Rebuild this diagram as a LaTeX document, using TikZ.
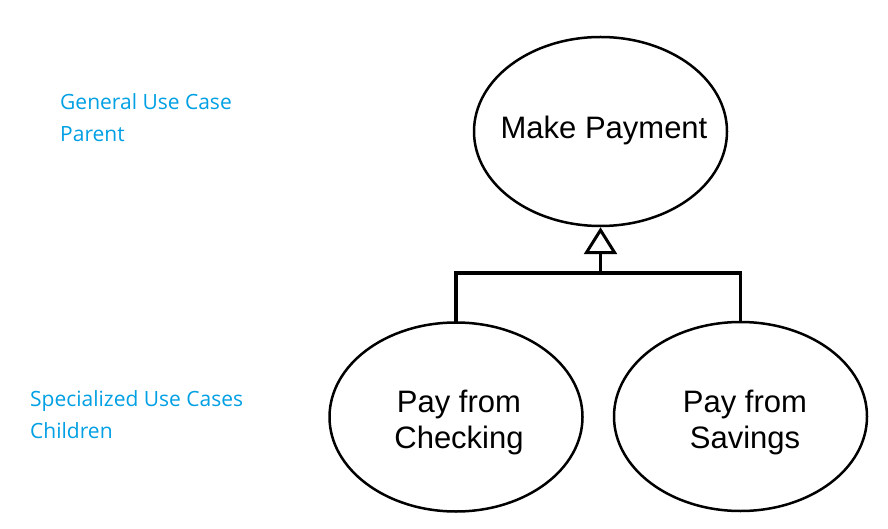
\documentclass[tikz,border=0pt]{standalone}
\usepackage{fontspec}
\setmainfont{Liberation Sans}
\newfontfamily\labelfont{Open Sans}
\usetikzlibrary{shapes.geometric,arrows.meta}
\definecolor{lblblue}{RGB}{0,160,228}
\begin{document}
\begin{tikzpicture}[x=1pt,y=-1pt,
  usecase/.style={ellipse, draw=black, line width=2.5pt, minimum width=253pt, minimum height=189pt, inner sep=0pt},
  uctext/.style={align=center, inner sep=0pt, font=\fontsize{31}{36}\selectfont},
  conn/.style={draw=black, line width=3.5pt},
  note/.style={anchor=north west, align=left, text=lblblue, inner sep=0pt, font=\labelfont\fontsize{21}{32.5}\selectfont}]
\useasboundingbox[fill=white] (0,0) rectangle (888,529);
\node[usecase] (mp) at (600.5,131.5) {};
\node[usecase] (pc) at (456,417) {};
\node[usecase] (ps) at (740.5,416.5) {};
\node[uctext] (mpt) at (604,130) {Make Payment};
\node[uctext] (pct) at (459,422) {Pay from\\Checking};
\node[uctext] (pst) at (745,422) {Pay from\\Savings};
\coordinate (j) at (600.5,273);
\draw[conn, line cap=rect] (pc.north) |- (j) -| (ps.north);
\draw[conn, line width=3pt, -{Triangle[open, length=27pt, width=33pt]}] (j) -- (mp.south);
\node[note] (gp) at (60,93) {General Use Case\\Parent};
\node[note] (sc) at (30,390) {Specialized Use Cases\\Children};
\end{tikzpicture}
\end{document}
